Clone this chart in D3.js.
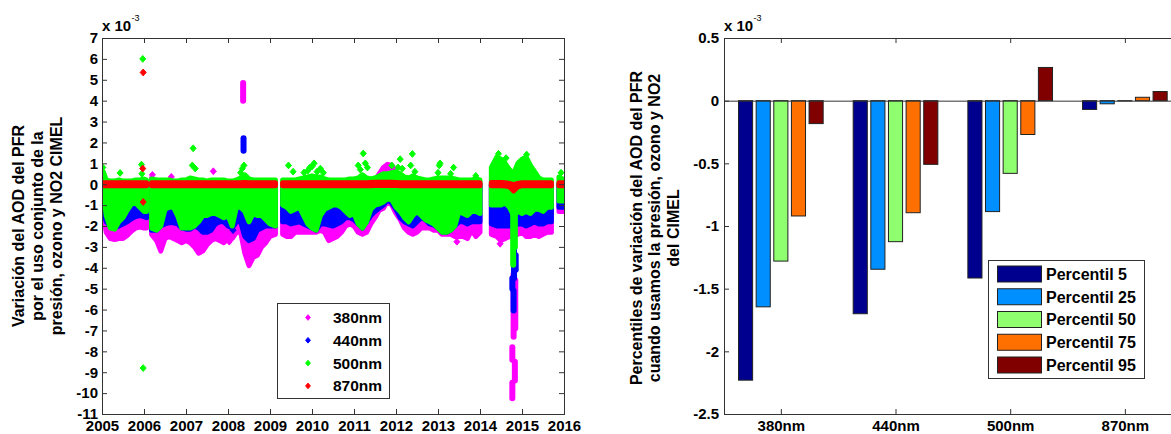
<!DOCTYPE html>
<html>
<head>
<meta charset="utf-8">
<script src="https://cdn.jsdelivr.net/npm/d3@7"></script>
<style>
  body { margin: 0; background: #fff; }
  svg { display: block; font-family: "Liberation Sans", Arial, sans-serif; font-weight: bold; }
</style>
</head>
<body>
<svg width="1171" height="434"></svg>
<script>
// ---- left panel: AOD variation (x 1e-3) vs time, envelopes of the dense point clouds ----
var years = [
  2005.03, 2005.1, 2005.2, 2005.3, 2005.4, 2005.5, 2005.6, 2005.7, 2005.8, 2005.9, 2006.0, 2006.06,
  2006.12,
  2006.18, 2006.3, 2006.4, 2006.5, 2006.6, 2006.7, 2006.8, 2006.9, 2007.0, 2007.1, 2007.2, 2007.3, 2007.4, 2007.5, 2007.6, 2007.7, 2007.8, 2007.9,
  2008.0, 2008.1, 2008.2, 2008.3, 2008.4, 2008.5, 2008.6, 2008.7, 2008.8, 2008.9, 2009.0, 2009.13,
  2009.2,
  2009.3, 2009.4, 2009.5, 2009.6, 2009.7, 2009.8, 2009.9, 2010.0, 2010.1, 2010.2, 2010.3, 2010.4, 2010.5, 2010.6, 2010.7, 2010.8, 2010.9,
  2011.0, 2011.1, 2011.2, 2011.3, 2011.4, 2011.5, 2011.6, 2011.7, 2011.8, 2011.9, 2012.0, 2012.1, 2012.2, 2012.3, 2012.4, 2012.5, 2012.6, 2012.7, 2012.8, 2012.9,
  2013.0, 2013.1, 2013.2, 2013.3, 2013.4, 2013.5, 2013.6, 2013.7, 2013.8, 2013.9, 2014.0,
  2014.12,
  2014.27, 2014.4, 2014.5, 2014.6, 2014.7, 2014.8, 2014.9, 2015.0, 2015.1, 2015.2, 2015.3, 2015.4, 2015.5, 2015.6, 2015.7,
  2015.8,
  2015.88, 2016.0
];

// 380nm (magenta)
var lo380 = [
  -1.5, -2.3, -2.6, -2.65, -2.6, -2.6, -2.45, -2.25, -2.1, -2.05, -2.1, -2.1,
  null,
  -2.4, -2.7, -3.2, -2.6, -2.5, -2.6, -2.7, -2.8, -2.7, -2.8, -3.0, -3.3, -3.2, -2.9, -2.7, -2.6, -2.7, -2.8,
  -2.6, -2.6, -2.3, -2.3, -3.3, -3.9, -3.5, -3.4, -3.0, -2.8, -2.5, -2.4,
  null,
  -2.4, -2.5, -2.5, -2.3, -2.3, -2.3, -2.3, -2.3, -2.3, -2.2, -2.3, -2.7, -2.6, -2.5, -2.3, -2.0, -1.9,
  -2.0, -2.3, -2.4, -2.3, -1.9, -1.6, -1.25, -1.15, -0.8, -1.0, -1.4, -1.7, -2.1, -2.3, -2.4, -2.3, -2.1, -2.1, -2.1, -2.2,
  -2.2, -2.4, -2.4, -2.4, -2.5, -2.5, -2.5, -2.6, -2.2, -2.5, -2.3,
  null,
  -2.4, -2.5, -2.7, -2.6, -2.5, -2.5, -2.4, -2.3, -2.5, -2.5, -2.4, -2.5, -2.4, -2.3, -2.3,
  null,
  -1.3, -1.3
];
var hi380 = [
  0, 0, 0, 0, 0, 0, 0, 0, 0, 0, 0, 0,
  null,
  0.3, 0, 0, 0, 0.2, 0, 0, 0, 0, 0, 0, 0, 0, 0, 0, 0, 0, 0,
  0, 0, 0, 0, 0, 0, 0, 0, 0, 0, 0, 0,
  null,
  0, 0, 0, 0, 0, 0, 0, 0, 0, 0, 0, 0, 0, 0, 0, 0, 0,
  0, 0, 0, 0, 0, 0.2, 0.5, 0.8, 0.95, 0.9, 0.6, 0, 0, 0, 0, 0, 0, 0, 0, 0,
  0, 0, 0, 0, 0, 0, 0, 0, 0, 0, 0,
  null,
  0, 0, 0, 0, 0, 0, 0, 0, 0, 0, 0, 0, 0, 0, 0,
  null,
  0, 0
];

// 440nm (blue)
var lo440 = [
  -1.2, -1.8, -2.0, -2.1, -2.0, -1.9, -1.8, -1.65, -1.55, -1.5, -1.55, -1.6,
  null,
  -2.2, -2.2, -2.0, -1.9, -1.85, -1.85, -1.9, -2.1, -2.15, -2.15, -2.0, -2.1, -2.3, -2.3, -2.2, -1.9, -1.8, -1.8,
  -2.0, -2.1, -1.8, -1.8, -2.5, -2.7, -2.6, -2.2, -2.1, -2.0, -2.0, -2.0,
  null,
  -1.8, -1.8, -1.9, -1.85, -1.8, -1.9, -2.0, -2.1, -2.2, -1.9, -1.9, -1.95, -2.0, -1.9, -1.8, -1.6, -1.6,
  -1.7, -1.9, -2.1, -1.8, -1.5, -1.3, -1.15, -1.0, -0.75, -0.9, -1.2, -1.6, -1.8, -1.9, -2.0, -1.8, -1.6, -1.7, -1.9, -1.95,
  -2.1, -2.3, -2.3, -2.2, -2.0, -1.8, -1.8, -1.9, -1.8, -1.8, -1.8,
  null,
  -1.9, -2.0, -2.0, -2.0, -2.0, -2.0, -1.9, -1.9, -2.0, -1.9, -1.8, -1.9, -1.9, -1.8, -1.8,
  null,
  -1.1, -1.1
];
var hi440 = [
  0, 0, 0, 0, 0, 0, 0, 0, 0, 0, 0, 0,
  null,
  0, 0, 0, 0, 0, 0, 0, 0, 0, 0, 0, 0, 0, 0, 0, 0, 0, 0,
  0, 0, 0, 0, 0, 0, 0, 0, 0, 0, 0, 0,
  null,
  0, 0, 0, 0, 0, 0, 0, 0, 0, 0, 0, 0, 0, 0, 0, 0, 0,
  0, 0, 0, 0, 0, 0, 0, 0, 0, 0, 0, 0, 0, 0, 0, 0, 0, 0, 0, 0,
  0, 0, 0, 0, 0, 0, 0, 0, 0, 0, 0,
  null,
  0, 0, 0, 0, 0, 0, 0, 0, 0, 0, 0, 0, 0, 0, 0,
  null,
  0, 0
];

// 500nm (green)
var lo500 = [
  -0.3, -1.5, -2.1, -2.15, -1.8, -1.6, -1.25, -0.95, -0.9, -1.1, -1.3, -1.3,
  null,
  -2.1, -2.2, -2.0, -1.2, -1.1, -1.1, -1.5, -2.1, -2.1, -2.1, -2.0, -1.8, -1.5, -1.5, -1.4, -1.4, -1.5, -1.6,
  -1.5, -2.0, -1.1, -1.1, -1.3, -1.8, -1.4, -1.5, -1.5, -1.7, -1.9, -2.0,
  null,
  -1.0, -1.1, -1.3, -1.2, -1.1, -1.5, -1.9, -2.1, -2.2, -1.5, -1.2, -1.1, -1.0, -1.0, -1.1, -1.3, -1.5,
  -1.4, -1.9, -2.1, -1.8, -1.2, -1.0, -0.95, -0.85, -0.7, -0.75, -1.1, -1.3, -1.6, -1.8, -1.5, -1.3, -1.5, -1.7, -1.8, -1.9,
  -2.1, -2.3, -2.3, -2.2, -2.0, -1.3, -1.4, -1.5, -1.3, -1.3, -1.4,
  null,
  -1.0, -1.0, -1.0, -0.9, -1.1, -1.5, -1.3, -1.4, -1.3, -1.4, -1.2, -1.2, -1.3, -1.1, -1.1,
  null,
  -0.8, -0.8
];
var hi500 = [
  0.6, 0.2, 0.15, 0.15, 0.2, 0.15, 0.15, 0.15, 0.2, 0.2, 0.25, 0.2,
  null,
  0.25, 0.2, 0.2, 0.2, 0.2, 0.15, 0.15, 0.2, 0.2, 0.3, 0.25, 0.2, 0.2, 0.15, 0.2, 0.2, 0.2, 0.2,
  0.15, 0.15, 0.2, 0.3, 0.45, 0.25, 0.2, 0.2, 0.2, 0.2, 0.2, 0.2,
  null,
  0.2, 0.2, 0.2, 0.2, 0.25, 0.3, 0.35, 0.4, 0.35, 0.35, 0.25, 0.2, 0.2, 0.2, 0.2, 0.2, 0.25,
  0.25, 0.3, 0.45, 0.3, 0.25, 0.3, 0.4, 0.5, 0.5, 0.55, 0.6, 0.5, 0.35, 0.3, 0.4, 0.3, 0.25, 0.2, 0.2, 0.25,
  0.3, 0.3, 0.3, 0.3, 0.25, 0.2, 0.2, 0.2, 0.2, 0.25, 0.2,
  null,
  0.8, 1.3, 1.2, 1.0, 0.7, 0.5, 1.0, 1.2, 1.3, 0.9, 0.6, 0.3, 0.2, 0.2, 0.2,
  null,
  0.35, 0.2
];

// 870nm (red)
var lo870 = [
  -0.07, -0.07, -0.07, -0.07, -0.07, -0.07, -0.07, -0.07, -0.07, -0.07, -0.07, -0.07,
  null,
  -0.07, -0.07, -0.07, -0.07, -0.07, -0.07, -0.07, -0.07, -0.07, -0.07, -0.07, -0.07, -0.07, -0.07, -0.07, -0.07, -0.07, -0.07,
  -0.07, -0.07, -0.07, -0.07, -0.07, -0.07, -0.07, -0.07, -0.07, -0.07, -0.07, -0.07,
  null,
  -0.07, -0.07, -0.07, -0.07, -0.07, -0.07, -0.07, -0.07, -0.07, -0.07, -0.07, -0.07, -0.07, -0.07, -0.07, -0.07, -0.07,
  -0.07, -0.07, -0.07, -0.07, -0.07, -0.06, -0.06, -0.06, -0.06, -0.06, -0.06, -0.07, -0.07, -0.07, -0.07, -0.07, -0.07, -0.07, -0.07, -0.07,
  -0.07, -0.07, -0.07, -0.07, -0.07, -0.07, -0.07, -0.07, -0.07, -0.07, -0.07,
  null,
  -0.07, -0.07, -0.07, -0.08, -0.12, -0.32, -0.12, -0.07, -0.07, -0.07, -0.07, -0.07, -0.07, -0.07, -0.07,
  null,
  -0.07, -0.07
];
var hi870 = [
  0.07, 0.07, 0.07, 0.07, 0.07, 0.07, 0.07, 0.07, 0.07, 0.07, 0.07, 0.07,
  null,
  0.07, 0.07, 0.07, 0.07, 0.07, 0.07, 0.07, 0.07, 0.07, 0.07, 0.07, 0.07, 0.07, 0.07, 0.07, 0.07, 0.07, 0.07,
  0.07, 0.07, 0.07, 0.07, 0.08, 0.07, 0.07, 0.07, 0.07, 0.07, 0.07, 0.07,
  null,
  0.07, 0.07, 0.07, 0.07, 0.07, 0.07, 0.07, 0.07, 0.07, 0.07, 0.07, 0.07, 0.07, 0.07, 0.07, 0.07, 0.07,
  0.07, 0.07, 0.07, 0.07, 0.08, 0.09, 0.09, 0.09, 0.09, 0.09, 0.08, 0.07, 0.07, 0.07, 0.07, 0.07, 0.07, 0.07, 0.07, 0.07,
  0.07, 0.07, 0.07, 0.07, 0.07, 0.07, 0.07, 0.07, 0.07, 0.07, 0.07,
  null,
  0.08, 0.08, 0.08, 0.07, 0.04, -0.02, 0.04, 0.07, 0.07, 0.07, 0.07, 0.07, 0.07, 0.07, 0.07,
  null,
  0.07, 0.07
];

// vertical clusters of points [year, top, bottom]
var runs380 = [[2008.36, 4.85, 4.0], [2014.80, -4.3, -7.3], [2014.84, -4.6, -6.9], [2014.77, -7.8, -8.4], [2014.83, -8.5, -9.4], [2014.77, -9.5, -10.25]];
var runs440 = [[2008.37, 2.2, 1.6], [2014.81, -2.9, -4.5], [2014.77, -4.5, -5.0], [2014.80, -5.1, -6.05], [2014.85, -3.4, -4.1]];
var runs500 = [[2014.79, -1.4, -3.85], [2014.83, -1.4, -3.0]];

// isolated points [year, value]
var pts380 = [[2006.2, 0.45], [2006.65, 0.35], [2007.65, 0.62], [2008.03, -2.75], [2013.45, -2.75], [2014.48, -2.85]];
var pts440 = [[2005.98, -1.45], [2008.12, -2.2]];
var pts500 = [[2005.02, 0.8], [2005.43, 0.54], [2005.94, 0.94], [2005.95, 0.5], [2005.97, 6.0], [2005.98, -8.8], [2005.97, -1.15],
  [2007.17, 1.72], [2007.15, 0.9], [2007.22, 0.75], [2008.3, 0.55], [2008.34, 0.75], [2008.38, 0.9], [2009.44, 0.9],
  [2009.55, 0.6], [2009.81, 0.56], [2009.9, 0.65], [2009.95, 0.8], [2010.0, 0.85], [2010.05, 1.0], [2010.12, 0.6],
  [2010.2, 0.75], [2010.27, 0.55], [2011.1, 0.9], [2011.15, 0.7], [2011.22, 1.47], [2011.27, 1.0], [2011.32, 0.8],
  [2011.9, 0.9], [2012.05, 0.8], [2012.1, 1.2], [2012.15, 0.75], [2012.35, 0.9], [2012.39, 1.45], [2012.45, 0.6],
  [2013.0, 0.55], [2013.03, 0.9], [2013.05, 1.0], [2013.37, 0.8], [2013.3, 0.5], [2013.9, 0.4], [2014.44, 1.46],
  [2014.62, 1.25], [2015.05, 1.1], [2015.11, 1.42], [2015.93, 0.55]];
var pts870 = [[2005.98, 5.35], [2005.97, 0.75], [2005.98, -0.85]];

var wavelengths = ["380nm", "440nm", "500nm", "870nm"];
var yearTicks = [2005, 2006, 2007, 2008, 2009, 2010, 2011, 2012, 2013, 2014, 2015, 2016];
var leftTicks = [-11, -10, -9, -8, -7, -6, -5, -4, -3, -2, -1, 0, 1, 2, 3, 4, 5, 6, 7];

// ---- right panel: percentiles of the variation (x 1e-3) ----
var percentiles = ["Percentil 5", "Percentil 25", "Percentil 50", "Percentil 75", "Percentil 95"];
var p5  = [-2.23, -1.70, -1.415, -0.07];
var p25 = [-1.645, -1.345, -0.885, -0.025];
var p50 = [-1.28, -1.125, -0.58, -0.002];
var p75 = [-0.92, -0.894, -0.27, 0.027];
var p95 = [-0.183, -0.508, 0.265, 0.073];
var rightTicks = [-2.5, -2, -1.5, -1, -0.5, 0, 0.5];

var svg = d3.select("svg");
var lineCol = "#333";

function styleAxis(g) {
  g.attr("font-size", null).attr("font-family", null);
  g.select(".domain").remove();
  g.selectAll(".tick line").attr("stroke", lineCol);
  g.selectAll(".tick text").attr("fill", "#000").style("font-size", "15px").style("font-weight", "bold");
}

function drawFrame(xs, ys, xVals, yVals, xFmt, yFmt) {
  var x0 = xs.range()[0], x1 = xs.range()[1], yb = ys.range()[0], yt = ys.range()[1];
  svg.append("g").attr("transform", "translate(0," + yb + ")")
    .call(d3.axisBottom(xs).tickValues(xVals).tickSize(-5).tickPadding(6.5).tickFormat(xFmt)).call(styleAxis);
  svg.append("g").attr("transform", "translate(0," + yt + ")")
    .call(d3.axisTop(xs).tickValues(xVals).tickSize(-5).tickFormat("")).call(styleAxis);
  svg.append("g").attr("transform", "translate(" + x0 + ",0)")
    .call(d3.axisLeft(ys).tickValues(yVals).tickSize(-5).tickPadding(4).tickFormat(yFmt)).call(styleAxis);
  svg.append("g").attr("transform", "translate(" + x1 + ",0)")
    .call(d3.axisRight(ys).tickValues(yVals).tickSize(-5).tickFormat("")).call(styleAxis);
  svg.append("rect").attr("x", x0 + 0.5).attr("y", yt + 0.5)
    .attr("width", x1 - x0).attr("height", yb - yt)
    .attr("fill", "none").attr("stroke", lineCol).attr("stroke-width", 1);
}

function exponent(x) {
  svg.append("text").attr("x", x).attr("y", 30.5).style("font-size", "15px").text("x 10");
  svg.append("text").attr("x", x + 29.5).attr("y", 21).style("font-size", "9px").style("font-weight", "normal").text("-3");
}

function yLabel(lines, baselines, cy) {
  lines.forEach(function(s, i) {
    svg.append("text")
      .attr("transform", "translate(" + baselines[i] + "," + cy + ") rotate(-90)")
      .attr("text-anchor", "middle")
      .style("font-size", "16px")
      .text(s);
  });
}

// ================= left panel =================
var x = d3.scaleLinear().domain([2005, 2016]).range([102, 564]);
var y = d3.scaleLinear().domain([-11, 7]).range([414, 38]);

svg.append("clipPath").attr("id", "clipL").append("rect")
  .attr("x", 102).attr("y", 38).attr("width", 462).attr("height", 376);
var plot = svg.append("g").attr("clip-path", "url(#clipL)");

var diamond = "M0,-3.4L3,0L0,3.4L-3,0Z";

var seriesL = [
  { lo: lo380, hi: hi380, runs: runs380, pts: pts380, color: "#ff00ff" },
  { lo: lo440, hi: hi440, runs: runs440, pts: pts440, color: "#0000ff" },
  { lo: lo500, hi: hi500, runs: runs500, pts: pts500, color: "#00ff00" },
  { lo: lo870, hi: hi870, runs: [], pts: pts870, color: "#ff0000" }
];

seriesL.forEach(function(s) {
  var area = d3.area()
    .defined(function(d, i) { return s.lo[i] != null; })
    .x(function(d) { return x(d); })
    .y0(function(d, i) { return y(s.lo[i]); })
    .y1(function(d, i) { return y(s.hi[i]); });
  plot.append("path").datum(years)
    .attr("d", area)
    .attr("fill", s.color)
    .attr("stroke", s.color)
    .attr("stroke-width", 5)
    .attr("stroke-linejoin", "round");
  plot.selectAll(null).data(s.runs).enter().append("line")
    .attr("x1", function(d) { return x(d[0]); })
    .attr("x2", function(d) { return x(d[0]); })
    .attr("y1", function(d) { return y(d[1]); })
    .attr("y2", function(d) { return y(d[2]); })
    .attr("stroke", s.color).attr("stroke-width", 6).attr("stroke-linecap", "round");
  plot.selectAll(null).data(s.pts).enter().append("path")
    .attr("d", diamond)
    .attr("transform", function(d) { return "translate(" + x(d[0]) + "," + y(d[1]) + ")"; })
    .attr("fill", s.color).attr("stroke", s.color).attr("stroke-width", 1);
});

drawFrame(x, y, yearTicks, leftTicks, function(d) { return String(d); }, function(d) { return String(d); });
exponent(102);
yLabel(["Variación del AOD del PFR", "por el uso conjunto de la", "presión, ozono y NO2 CIMEL"], [23.5, 42.5, 61.5], 226);

// legend left
var legL = svg.append("g");
legL.append("rect").attr("x", 277.5).attr("y", 303.5).attr("width", 112).attr("height", 95)
  .attr("fill", "#fff").attr("stroke", lineCol);
wavelengths.forEach(function(w, i) {
  var cy = 317.5 + i * 22.8;
  legL.append("path").attr("d", "M0,-2.8L2.4,0L0,2.8L-2.4,0Z")
    .attr("transform", "translate(308," + cy + ")")
    .attr("fill", seriesL[i].color).attr("stroke", seriesL[i].color);
  legL.append("text").attr("x", 333).attr("y", cy).attr("dy", "0.36em")
    .style("font-size", "15.5px").text(w);
});

// ================= right panel =================
var bandColors = ["#00008f", "#008fff", "#8fff70", "#ff7000", "#800000"];
var series = [p5, p25, p50, p75, p95];

var xb = d3.scaleBand().domain(wavelengths).range([723.5, 1182.2]).paddingInner(0.231).paddingOuter(0.1155);
var xp = d3.scaleBand().domain(percentiles).range([0, xb.bandwidth()]).paddingInner(0.2).paddingOuter(0.1);
var yb = d3.scaleLinear().domain([-2.5, 0.5]).range([414, 38]);

var barData = [];
wavelengths.forEach(function(w, gi) {
  percentiles.forEach(function(p, pi) {
    barData.push({ group: w, pct: p, value: series[pi][gi], color: bandColors[pi] });
  });
});

svg.selectAll(null).data(barData).enter().append("rect")
  .attr("x", function(d) { return xb(d.group) + xp(d.pct); })
  .attr("y", function(d) { return yb(Math.max(0, d.value)); })
  .attr("width", xp.bandwidth())
  .attr("height", function(d) { return Math.abs(yb(d.value) - yb(0)); })
  .attr("fill", function(d) { return d.color; })
  .attr("stroke", "#222").attr("stroke-width", 1);

// baseline at zero
svg.append("line").attr("x1", 724).attr("x2", 1182).attr("y1", yb(0) + 0.5).attr("y2", yb(0) + 0.5)
  .attr("stroke", lineCol);

// frame: ticks at group centres
var xc = d3.scaleLinear().domain([0.5, 4.5]).range([723.5, 1182.2]);
var xbAxisBottom = d3.axisBottom(xc).tickValues([1, 2, 3, 4]).tickSize(-5).tickPadding(6.5)
  .tickFormat(function(d) { return wavelengths[d - 1]; });
svg.append("g").attr("transform", "translate(0,414)").call(xbAxisBottom).call(styleAxis);
svg.append("g").attr("transform", "translate(0,38)")
  .call(d3.axisTop(xc).tickValues([1, 2, 3, 4]).tickSize(-5).tickFormat("")).call(styleAxis);
svg.append("g").attr("transform", "translate(724,0)")
  .call(d3.axisLeft(yb).tickValues(rightTicks).tickSize(-5).tickPadding(5).tickFormat(function(d) { return String(d); }))
  .call(styleAxis);
svg.append("g").attr("transform", "translate(1182,0)")
  .call(d3.axisRight(yb).tickValues(rightTicks).tickSize(-5).tickFormat("")).call(styleAxis);
svg.append("rect").attr("x", 724.5).attr("y", 38.5).attr("width", 458).attr("height", 376)
  .attr("fill", "none").attr("stroke", lineCol);

exponent(724);
yLabel(["Percentiles de variación del AOD del PFR", "cuando usamos la presión, ozono y NO2", "del CIMEL"], [641.5, 660, 678.5], 228);

// legend right
var legR = svg.append("g");
legR.append("rect").attr("x", 988.5).attr("y", 260.5).attr("width", 156).attr("height", 118)
  .attr("fill", "#fff").attr("stroke", lineCol);
percentiles.forEach(function(p, i) {
  var cy = 274 + i * 22.75;
  legR.append("rect").attr("x", 997.5).attr("y", cy - 8).attr("width", 44).attr("height", 16)
    .attr("fill", bandColors[i]).attr("stroke", "#222");
  legR.append("text").attr("x", 1046).attr("y", cy).attr("dy", "0.36em")
    .style("font-size", "16px").text(p);
});
</script>
</body>
</html>
